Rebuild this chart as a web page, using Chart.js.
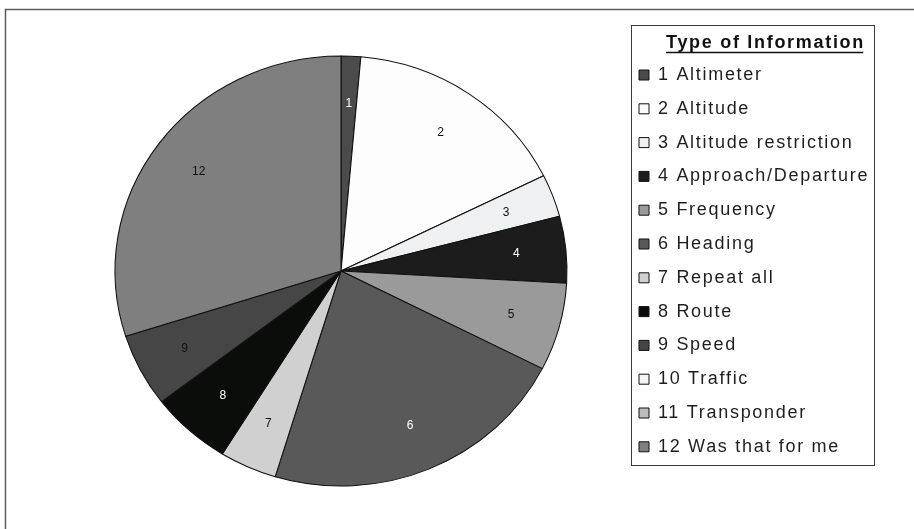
<!DOCTYPE html>
<html><head><meta charset="utf-8">
<script src="https://cdn.jsdelivr.net/npm/chart.js@4/dist/chart.umd.min.js"></script>
<style>html,body{margin:0;padding:0;background:#fff;} #wrap{width:914px;height:529px;position:relative;}</style>
</head><body><div id="wrap"><canvas id="c"></canvas></div>
<script>
const categories = ['1 Altimeter','2 Altitude','3 Altitude restriction','4 Approach/Departure','5 Frequency','6 Heading','7 Repeat all','8 Route','9 Speed','10 Traffic','11 Transponder','12 Was that for me'];
const sliceLabels = ['1','2','3','4','5','6','7','8','9','10','11','12'];
const shares = [1.4, 16.3, 3.2, 5.0, 6.6, 22.2, 4.1, 5.8, 5.5, 0, 0, 29.9];
const sliceColors = ['#4b4b4b','#fdfdfd','#eff0f2','#1c1c1c','#9a9a9a','#595959','#d0d0d0','#0b0d0b','#464646','#f4f4f4','#bdbdbd','#7f7f7f'];
const labelColors = ['#ffffff','#111111','#111111','#ffffff','#111111','#ffffff','#111111','#ffffff','#111111','#111111','#111111','#111111'];
const legendTitle = 'Type of Information';

const FONT = '"Liberation Sans", Arial, sans-serif';
const SX = 226 / 215;
const LS = 1.7;

const decor = {
  id: 'decor',
  beforeUpdate(chart) { chart.ctx.letterSpacing = LS + 'px'; },
  afterLayout(chart) {
    const lg = chart.legend;
    lg.width = 2 * (765.5 - lg.left);
  },
  beforeDraw(chart) {
    const ctx = chart.ctx;
    ctx.save();
    ctx.strokeStyle = '#5c5c5c';
    ctx.lineWidth = 1.5;
    ctx.beginPath();
    ctx.moveTo(5.5, 700); ctx.lineTo(5.5, 9.5); ctx.lineTo(1200, 9.5);
    ctx.stroke();
    const lg = chart.legend;
    ctx.lineWidth = 1;
    ctx.strokeStyle = '#3a3a3a';
    ctx.strokeRect(Math.round(lg.left + 8) + 0.5, Math.round(lg.top) + 0.5, 243, 440);
    ctx.restore();
  },
  beforeDatasetsDraw(chart) {
    const arc = chart.getDatasetMeta(0).data[0];
    const ctx = chart.ctx;
    ctx.save();
    ctx.translate(arc.x, arc.y);
    ctx.scale(SX, 1);
    ctx.translate(-arc.x, -arc.y);
  },
  afterDatasetsDraw(chart) {
    const ctx = chart.ctx;
    ctx.restore();
    ctx.save();
    ctx.letterSpacing = '0px';
    ctx.font = '12px ' + FONT;
    ctx.textAlign = 'center';
    ctx.textBaseline = 'middle';
    chart.getDatasetMeta(0).data.forEach((el, i) => {
      if (!shares[i]) return;
      const p = el.getProps(['x','y','startAngle','endAngle','outerRadius'], true);
      const a = (p.startAngle + p.endAngle) / 2;
      const r = p.outerRadius * 0.78;
      ctx.fillStyle = labelColors[i];
      ctx.fillText(sliceLabels[i], p.x + Math.cos(a) * r * SX, p.y + Math.sin(a) * r);
    });
    ctx.restore();
  },
  afterDraw(chart) {
    const ctx = chart.ctx;
    const lg = chart.legend;
    ctx.save();
    ctx.font = 'bold 18px ' + FONT;
    const w = ctx.measureText(legendTitle).width;
    const cx = lg.left + lg.width / 2;
    ctx.strokeStyle = '#111';
    ctx.lineWidth = 1.3;
    ctx.beginPath();
    ctx.moveTo(cx - w / 2, 52.5);
    ctx.lineTo(cx + w / 2 - LS, 52.5);
    ctx.stroke();
    ctx.restore();
  }
};

new Chart(document.getElementById('c'), {
  type: 'pie',
  data: {
    labels: categories,
    datasets: [{
      data: shares,
      backgroundColor: sliceColors,
      borderColor: '#111111',
      borderWidth: 1,
      radius: 215
    }]
  },
  options: {
    responsive: true,
    maintainAspectRatio: false,
    animation: false,
    events: [],
    layout: { padding: { left: 58.8, top: 25, right: 40.8, bottom: 12 } },
    plugins: {
      tooltip: { enabled: false },
      legend: {
        position: 'right',
        align: 'start',
        maxWidth: 250,
        title: {
          display: true,
          text: legendTitle,
          color: '#111',
          font: { family: FONT, size: 18, weight: 'bold', lineHeight: 0.9 },
          padding: { top: 9, bottom: 0 }
        },
        labels: {
          color: '#1e1e1e',
          font: { family: FONT, size: 18 },
          boxWidth: 10,
          boxHeight: 10,
          padding: 15.8
        }
      }
    }
  },
  plugins: [decor]
});
</script>
</body></html>
